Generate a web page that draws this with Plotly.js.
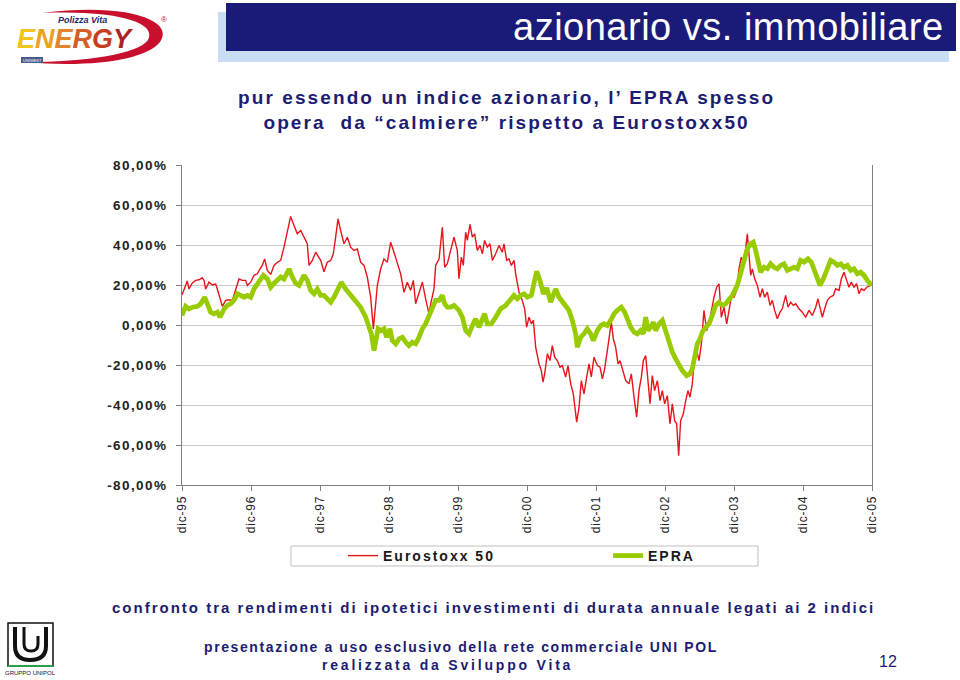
<!DOCTYPE html>
<html>
<head>
<meta charset="utf-8">
<script src="https://cdn.plot.ly/plotly-3.0.1.min.js"></script>
<style>html,body{margin:0;padding:0;background:#fff;}#chart{width:960px;height:680px;}</style>
</head>
<body>
<div id="chart"></div>
<script>
// ---- DATA (years elapsed since dic-95, value in %) ----
const anniEurostoxx = [0.000,0.029,0.077,0.101,0.150,0.198,0.246,0.295,0.319,0.343,0.391,0.440,0.488,0.512,0.560,0.585,0.633,0.681,0.729,0.778,0.826,0.874,0.923,0.947,0.995,1.043,1.092,1.130,1.164,1.198,1.237,1.285,1.333,1.382,1.430,1.478,1.527,1.575,1.623,1.671,1.720,1.768,1.816,1.841,1.889,1.937,
1.961,2.010,2.058,2.106,2.155,2.193,2.227,2.261,2.299,2.348,2.396,2.444,2.493,2.541,2.589,2.638,2.686,2.734,2.773,2.807,2.831,2.879,2.927,2.976,3.024,3.072,3.121,3.169,3.217,3.266,3.314,3.353,3.386,3.435,3.483,3.531,3.580,3.604,3.652,3.676,3.725,3.773,3.807,3.845,3.894,3.942,3.990,
4.014,4.048,4.077,4.111,4.135,4.174,4.208,4.242,4.280,4.319,4.353,4.386,4.425,4.464,4.498,4.546,4.594,4.642,4.667,4.705,4.739,4.773,4.812,4.836,4.860,4.884,4.932,4.966,4.995,5.029,5.063,5.092,5.126,5.174,5.208,5.232,5.256,5.295,5.333,5.367,5.401,5.440,5.478,5.512,5.560,5.594,5.633,5.671,5.720,5.754,5.787,5.826,5.865,5.899,5.932,5.971,
6.019,6.058,6.092,6.126,6.164,6.203,6.222,6.251,6.285,6.319,6.348,6.382,6.430,6.478,6.512,6.551,6.589,6.623,6.657,6.686,6.720,6.744,6.783,6.816,6.850,6.889,6.928,6.961,6.995,7.034,7.072,7.106,7.140,7.169,7.198,7.227,7.266,7.300,7.333,7.362,7.396,7.420,7.459,7.493,7.527,7.565,7.604,7.638,7.671,7.710,7.749,7.783,7.816,7.855,7.894,7.928,7.961,
8.000,8.039,8.072,8.106,8.135,8.169,8.193,8.217,8.242,8.266,8.300,8.338,8.377,8.411,8.444,8.483,8.522,8.556,8.589,8.628,8.667,8.700,8.749,8.783,8.821,8.860,8.894,8.942,8.990,9.039,9.087,9.135,9.184,9.217,9.246,9.280,9.314,9.353,9.391,9.440,9.473,9.522,9.556,9.594,9.633,9.667,9.700,9.739,9.778,9.812,9.845,9.884,9.923,9.957,9.990];
const eurostoxx = [15,17.3,22,18,21,22.3,22.6,23.6,22.3,18,21.4,20,20.5,18,12.3,9.3,12.3,12.6,12.3,18,23,22.3,22.3,19.8,21.4,24.8,25.6,28,29.8,33,27.3,25.3,29.8,31.4,32.3,38.9,46.4,54.3,49.8,45.6,47.3,43.9,40.6,29.8,32.3,36.4,
34.8,32.3,26.6,31.4,32.3,35.6,43.9,53.1,47.3,40.6,43.9,38.9,37.3,38,31.4,29.8,23.9,13.9,-2,8.9,19.8,28,33,31.4,41.4,36.4,30.6,25.6,16.4,21.4,17.3,22.3,10.6,15.6,21.4,13.1,5.6,10.6,18,29.8,33,48.9,28.9,30.6,38,43.9,37.3,
23.1,33.9,29.8,46.4,42.3,50.3,43.9,45.6,37.3,39.8,35.6,42.3,38.9,40.6,32.3,35.6,39.8,36.4,40.6,32.3,33.1,29.8,32.3,25.6,20.6,16.4,12.3,8.1,-1.1,3.9,0.6,2.3,-11.1,-19.4,-22.8,-28.6,-24.4,-14.4,-17.8,-10.3,-16.1,-17.8,-21.1,-20.3,-26,-20.3,-29.4,-34.4,-48.6,-41.1,-27.8,-34.4,-26,-19.4,-26,-16.1,
-20.3,-21.1,-26.9,-21.9,-12.8,-4.4,1.4,-6.9,-11.1,-19.4,-17.8,-21.9,-27.8,-29.4,-24.4,-36.1,-46.1,-32.8,-26.1,-17.8,-15.3,-24.4,-39.4,-25.3,-32.8,-27.8,-37.8,-32.8,-39.4,-35.3,-49.4,-39.4,-47.8,-49.4,-65.3,-47.8,-44.4,-37.8,-32.8,-36.1,-29.4,-19.4,-12.8,-17.8,-9.4,7.3,-2.8,0.6,7.3,13.9,18.9,20.6,3.9,8.9,0.6,7.3,13.9,
13.9,17.3,28.1,33.9,31.4,38.1,45.6,34.8,24.8,28.1,23.1,19.8,13.9,18.1,13.9,16.4,9.8,12.3,7.3,3.1,6.4,8.1,14.8,8.9,11.4,9.8,10.6,8.1,6.4,3.9,7.3,4.8,8.9,13.1,8.1,3.9,8.1,12.3,13.9,14.8,18.1,17.3,23.1,26.4,22.3,18.9,21.4,18.9,20.6,15.6,18.1,17.3,18.9,19.4,20];

const anniEpra = [0.000,0.053,0.101,0.150,0.222,0.271,0.329,0.367,0.415,0.464,0.512,0.551,0.609,0.657,0.705,0.754,0.802,0.850,0.899,0.947,0.995,1.043,1.116,1.179,1.237,1.285,1.333,1.382,1.430,1.478,1.551,1.599,1.647,1.696,1.768,1.816,1.865,1.913,
1.961,2.010,2.058,2.106,2.155,2.203,2.251,2.309,2.372,2.444,2.517,2.589,2.662,2.710,2.744,2.783,2.807,2.841,2.879,2.928,2.966,3.014,3.048,3.097,3.145,3.193,3.242,3.290,3.338,3.386,3.435,3.483,3.531,3.580,3.628,3.676,3.725,3.773,3.807,3.845,3.894,3.942,
4.014,4.063,4.111,4.159,4.208,4.256,4.304,4.353,4.386,4.425,4.483,4.546,4.618,4.691,4.763,4.812,4.860,4.908,4.957,5.005,5.063,5.101,5.140,5.188,5.237,5.285,5.343,5.415,5.464,5.536,5.609,5.657,5.705,5.729,5.778,5.826,5.874,5.923,5.961,
6.019,6.068,6.116,6.164,6.213,6.261,6.309,6.367,6.415,6.454,6.502,6.551,6.599,6.647,6.686,6.720,6.754,6.792,6.831,6.865,6.913,6.961,7.010,7.058,7.106,7.155,7.203,7.251,7.314,7.362,7.396,7.430,7.469,7.507,7.541,7.589,7.638,7.686,7.734,7.783,7.831,7.879,7.928,7.976,
8.048,8.097,8.145,8.193,8.242,8.280,8.314,8.348,8.386,8.435,8.483,8.531,8.580,8.628,8.676,8.725,8.773,8.821,8.870,8.918,8.966,9.014,9.072,9.121,9.159,9.208,9.246,9.295,9.353,9.401,9.449,9.498,9.546,9.594,9.643,9.691,9.739,9.787,9.836,9.884,9.932,9.971,10.000];
const epra = [4.8,9.3,8,8.9,9.3,10.6,13.9,9.8,6.4,5.6,6.4,3.9,8,9.8,10.6,12.3,15.6,14.8,13.9,14.8,13.9,18,21.4,24.8,23,18.9,20.8,22.3,24,23,28,24,20.8,19.8,24.8,22.3,17.3,15.6,
18,14.8,14.8,13.1,11.4,14,18,21.4,18,14.8,12.3,8.9,3.9,-0.3,-4.4,-12.8,-7.8,-1.9,-2.8,-1.9,-6.1,-1.9,-7.8,-9.4,-6.9,-6.1,-8.6,-10.3,-8.6,-9.4,-6.1,-1.9,0.6,4.8,8.9,12.3,12.3,14.8,10.6,8.9,8.9,9.8,
7.3,3.9,-2.8,-4.4,-0.3,3.1,-1.1,3.9,5.6,0.6,0.6,3.9,8.1,9.8,12.3,14.8,13.1,14.8,15.6,13.9,14.8,22.3,26.9,22.3,15.6,18.6,11.4,18,13.9,10.6,7.3,2.3,-4.4,-11.1,-6.1,-4.4,-1.9,-4.4,-7.8,
-2.8,-0.3,0.6,-0.3,2.3,5.6,7.3,8.9,6.4,3.1,-1.1,-3.6,-4.4,-2.8,-4.4,3.9,-2.8,-1.1,1.4,-2.8,0.6,2.3,-2.8,-9.4,-13.6,-16.9,-20.3,-22.8,-25.3,-24.4,-21.9,-16.9,-9.4,-6.9,-3.6,-1.1,0.6,4.8,9.8,11.4,9.8,10.6,13.1,14.8,
19.8,26.4,33.1,38.1,40.6,41.4,37.3,33.1,26.4,28.9,28.1,30.6,28.9,28.1,29.8,30.6,27.3,28.1,28.9,28.1,32.3,31.4,33.1,31.4,27.3,23.1,19.8,23.1,28.9,32.3,31.4,29.8,30.6,28.9,29.8,27.3,28.1,25.6,26.4,24.8,22.3,20.6,21.5];

const tickAnni = [0,1,2,3,4,5,6,7,8,9,10];
const tickLabelsX = ['dic-95','dic-96','dic-97','dic-98','dic-99','dic-00','dic-01','dic-02','dic-03','dic-04','dic-05'];
const tickValsY = [-80,-60,-40,-20,0,20,40,60,80];
const tickLabelsY = ['-80,00%','-60,00%','-40,00%','-20,00%','0,00%','20,00%','40,00%','60,00%','80,00%'];
const seriesNames = ['Eurostoxx 50','EPRA'];

// ---- layout helpers (pixel -> paper) ----
const L = 182, T = 165, W = 690, H = 320;
const px = x => (x - L) / W;
const py = y => (T + H - y) / H;
const P = (x, y) => px(x) + ',' + py(y);
const sp = (t, ls) => '<span style="letter-spacing:' + ls + 'px">' + t + '</span>';

const NAVY = '#1c1c72';
const FONT = 'Liberation Sans, Arial, sans-serif';

const traces = [
  {x: anniEurostoxx, y: eurostoxx, type: 'scatter', mode: 'lines', name: sp(seriesNames[0], 2),
   line: {color: '#e8141c', width: 1.4}, legend: 'legend'},
  {x: anniEpra, y: epra, type: 'scatter', mode: 'lines', name: sp(seriesNames[1], 2),
   line: {color: '#99cc00', width: 4.8}, legend: 'legend2'}
];

const legendFont = {family: FONT, size: 14, color: '#1a1a1a', weight: 'bold'};

const layout = {
  width: 960, height: 680,
  margin: {l: L, r: 960 - L - W, t: T, b: 680 - T - H, pad: 0},
  paper_bgcolor: '#ffffff', plot_bgcolor: '#ffffff',
  showlegend: true,
  xaxis: {
    range: [0, 10], tickvals: tickAnni, ticktext: tickLabelsX.map(t => sp(t, 0.8)),
    tickangle: -90, ticks: 'outside', ticklen: 5, tickcolor: '#808080',
    showgrid: false, zeroline: false, showline: true, linecolor: '#808080', linewidth: 1,
    tickfont: {family: FONT, size: 12, color: '#222'}, automargin: false, fixedrange: true
  },
  yaxis: {
    range: [-80, 80], tickvals: tickValsY, ticktext: tickLabelsY.map(t => sp(t, 1.4)),
    ticks: 'outside', ticklen: 5, tickcolor: '#808080', ticklabelstandoff: 6,
    showgrid: true, gridcolor: '#c8c8c8', gridwidth: 1, zeroline: false,
    showline: true, mirror: true, linecolor: '#808080', linewidth: 1,
    tickfont: {family: FONT, size: 13.5, color: '#222', weight: 'bold'}, automargin: false, fixedrange: true
  },
  legend: {x: px(343), y: py(556), xanchor: 'left', yanchor: 'middle', orientation: 'h',
    bgcolor: 'rgba(0,0,0,0)', borderwidth: 0, font: legendFont, itemwidth: 30},
  legend2: {x: px(608), y: py(556), xanchor: 'left', yanchor: 'middle', orientation: 'h',
    bgcolor: 'rgba(0,0,0,0)', borderwidth: 0, font: legendFont, itemwidth: 30},
  shapes: [
    // header bar with shadow
    {type: 'rect', xref: 'paper', yref: 'paper', x0: px(218), x1: px(949), y0: py(12), y1: py(62),
     fillcolor: '#c9def2', line: {width: 0}, layer: 'below'},
    {type: 'rect', xref: 'paper', yref: 'paper', x0: px(226), x1: px(956), y0: py(3), y1: py(51),
     fillcolor: '#1a1a78', line: {width: 0}, layer: 'below'},
    // legend box
    {type: 'rect', xref: 'paper', yref: 'paper', x0: px(291), x1: px(758), y0: py(546), y1: py(566),
     fillcolor: '#ffffff', line: {color: '#c0c0c0', width: 1}, layer: 'below'},
    // Energy logo swoosh
    {type: 'path', xref: 'paper', yref: 'paper', layer: 'below',
     path: 'M' + P(42, 13) + ' C' + P(125, 2) + ' ' + P(176, 20) + ' ' + P(160, 42) +
           ' C' + P(146, 60) + ' ' + P(92, 68) + ' ' + P(24, 62) +
           ' C' + P(88, 62) + ' ' + P(138, 54) + ' ' + P(148, 40) +
           ' C' + P(158, 22) + ' ' + P(115, 10) + ' ' + P(42, 13) + ' Z',
     fillcolor: '#c8102e', line: {width: 0}},
    {type: 'rect', xref: 'paper', yref: 'paper', x0: px(21), x1: px(43), y0: py(57), y1: py(63),
     fillcolor: '#4a5a8a', line: {width: 0}},
    // Unipol logo
    {type: 'rect', xref: 'paper', yref: 'paper', x0: px(8), x1: px(53), y0: py(623), y1: py(666),
     fillcolor: '#ffffff', line: {color: '#111', width: 1.5}},
    {type: 'path', xref: 'paper', yref: 'paper',
     path: 'M' + P(15, 627) + ' L' + P(15, 646) + ' Q' + P(15, 660) + ' ' + P(30, 660) +
           ' Q' + P(46, 660) + ' ' + P(46, 646) + ' L' + P(46, 627),
     line: {color: '#111', width: 4}},
    {type: 'path', xref: 'paper', yref: 'paper',
     path: 'M' + P(24, 627) + ' L' + P(24, 644) + ' Q' + P(24, 651) + ' ' + P(31, 651) +
           ' Q' + P(38, 651) + ' ' + P(38, 644) + ' L' + P(38, 636),
     line: {color: '#111', width: 3}},
    {type: 'line', xref: 'paper', yref: 'paper', x0: px(8), x1: px(53), y0: py(666), y1: py(666),
     line: {color: '#2e9e4a', width: 2}}
  ],
  annotations: [
    {text: sp('azionario vs. immobiliare', 0.5), xref: 'paper', yref: 'paper', x: px(946), y: py(27),
     xanchor: 'right', yanchor: 'middle', showarrow: false,
     font: {family: FONT, size: 38, color: '#ffffff'}},
    {text: sp('pur essendo un indice azionario, l’ EPRA spesso', 2.1) + '<br>' +
           sp('opera  da “calmiere” rispetto a Eurostoxx50', 2.1),
     xref: 'paper', yref: 'paper', x: px(506), y: py(110), xanchor: 'center', yanchor: 'middle',
     showarrow: false, align: 'center',
     font: {family: FONT, size: 19, color: NAVY, weight: 'bold'}},
    {text: sp('confronto tra rendimenti di ipotetici investimenti di durata annuale legati ai 2 indici', 2.0),
     xref: 'paper', yref: 'paper', x: px(493), y: py(607), xanchor: 'center', yanchor: 'middle',
     showarrow: false, font: {family: FONT, size: 15, color: NAVY, weight: 'bold'}},
    {text: sp('presentazione a uso esclusivo della rete commerciale UNI POL', 1.6),
     xref: 'paper', yref: 'paper', x: px(461), y: py(647), xanchor: 'center', yanchor: 'middle',
     showarrow: false, font: {family: FONT, size: 14, color: NAVY, weight: 'bold'}},
    {text: sp('realizzata da Sviluppo Vita', 2.8),
     xref: 'paper', yref: 'paper', x: px(447), y: py(665), xanchor: 'center', yanchor: 'middle',
     showarrow: false, font: {family: FONT, size: 14, color: NAVY, weight: 'bold'}},
    {text: '12', xref: 'paper', yref: 'paper', x: px(888), y: py(661), xanchor: 'center', yanchor: 'middle',
     showarrow: false, font: {family: FONT, size: 16, color: NAVY}},
    // Energy logo text
    {text: '<i>Polizza Vita</i>', xref: 'paper', yref: 'paper', x: px(82), y: py(20), xanchor: 'center', yanchor: 'middle',
     showarrow: false, font: {family: FONT, size: 9, color: '#1c2a6e', weight: 'bold'}},
    {text: '<i><span style="color:#f0c419">E</span><span style="color:#eaa41c">N</span><span style="color:#e3832a">E</span><span style="color:#d65d25">R</span><span style="color:#c63e22">G</span><span style="color:#ad2222">Y</span></i>',
     xref: 'paper', yref: 'paper', x: px(76), y: py(39), xanchor: 'center', yanchor: 'middle',
     showarrow: false, font: {family: FONT, size: 27, weight: 'bold'}},
    {text: '®', xref: 'paper', yref: 'paper', x: px(164), y: py(19), xanchor: 'center', yanchor: 'middle',
     showarrow: false, font: {family: FONT, size: 8, color: '#c8102e'}},
    {text: 'UNIWEST', xref: 'paper', yref: 'paper', x: px(32), y: py(60), xanchor: 'center', yanchor: 'middle',
     showarrow: false, font: {family: FONT, size: 4, color: '#ffffff'}},
    {text: 'GRUPPO UNIPOL', xref: 'paper', yref: 'paper', x: px(30), y: py(673), xanchor: 'center', yanchor: 'middle',
     showarrow: false, font: {family: FONT, size: 6, color: '#111'}}
  ]
};

Plotly.newPlot('chart', traces, layout, {displayModeBar: false, staticPlot: true});
</script>
</body>
</html>
